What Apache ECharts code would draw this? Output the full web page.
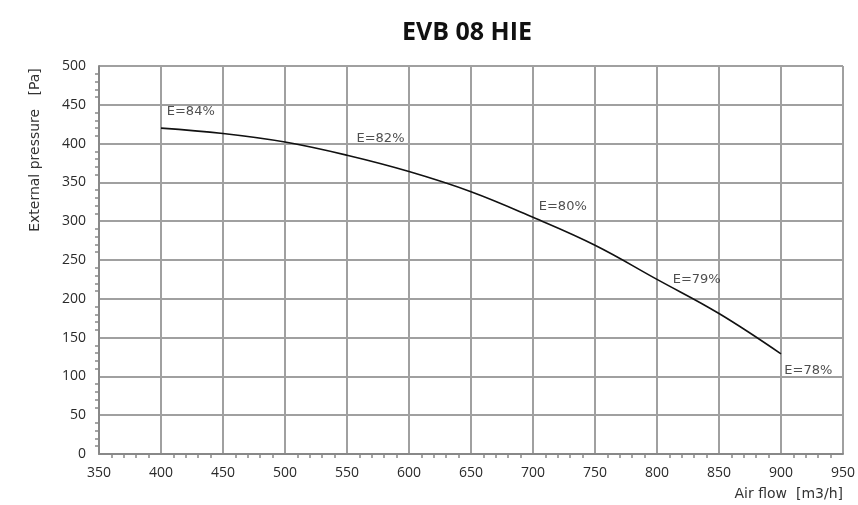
<!DOCTYPE html>
<html><head><meta charset="utf-8">
<script src="https://cdn.jsdelivr.net/npm/echarts@6/dist/echarts.min.js"></script>
<style>html,body{margin:0;padding:0;background:#fff}#c{width:858px;height:505px}</style>
</head><body><div id="c"></div>
<script>
const titleText = 'EVB 08 HIE';
const airFlow = [400, 450, 500, 550, 600, 650, 700, 750, 800, 850, 900];
const pressure = [420, 413, 402, 385, 364, 338, 305, 269, 225, 181, 129];
const effLabels = ['E=84%', 'E=82%', 'E=80%', 'E=79%', 'E=78%'];
const effLabelX = [424, 577, 724, 832, 922];
const effLabelY = [441, 407, 319, 225, 108];
const xAxisName = 'Air flow  [m3/h]';
const yAxisName = 'External pressure   [Pa]';

const font = 'DejaVu Sans';
const tickFont = 'Open Sans';
const chart = echarts.init(document.getElementById('c'), null, {renderer: 'canvas'});
chart.setOption({
  animation: false,
  backgroundColor: '#fff',
  title: {text: titleText, left: 462, top: 15, textAlign: 'center',
    textStyle: {fontFamily: 'Open Sans', fontWeight: 'bold', fontSize: 25, color: '#111'}},
  graphic: [{type: 'text', x: 35, y: 150, rotation: Math.PI / 2,
    style: {text: yAxisName, fontFamily: font, fontSize: 14, fill: '#333', align: 'center', verticalAlign: 'middle'}}],
  grid: {left: 99, right: 11, top: 66, bottom: 51},
  xAxis: {type: 'value', min: 350, max: 950, interval: 50,
    name: xAxisName, nameLocation: 'end', nameGap: 0,
    nameTextStyle: {fontFamily: font, fontSize: 14, color: '#333', align: 'right', verticalAlign: 'top', padding: [33, 0, 0, 0]},
    axisLine: {lineStyle: {color: '#888', width: 2}},
    axisTick: {show: false},
    minorTick: {show: true, splitNumber: 5, length: 4, lineStyle: {color: '#888', width: 1.5}},
    axisLabel: {fontFamily: tickFont, fontSize: 14, color: '#2a2a2a', margin: 12},
    splitLine: {show: true, lineStyle: {color: '#a0a0a0', width: 2}}},
  yAxis: {type: 'value', min: 0, max: 500, interval: 50,
    axisLine: {show: true, lineStyle: {color: '#888', width: 2}},
    axisTick: {show: false},
    minorTick: {show: true, splitNumber: 5, length: 4, lineStyle: {color: '#888', width: 1.5}},
    axisLabel: {fontFamily: tickFont, fontSize: 14, color: '#2a2a2a', margin: 13},
    splitLine: {show: true, lineStyle: {color: '#a0a0a0', width: 2}}},
  series: [
    {type: 'line', data: airFlow.map((x, i) => [x, pressure[i]]), smooth: 0.4,
      showSymbol: false, lineStyle: {color: '#111', width: 1.6}},
    {type: 'scatter', symbolSize: 0,
      data: effLabelX.map((x, i) => ({value: [x, effLabelY[i]], name: effLabels[i]})),
      label: {show: true, position: 'inside', formatter: p => p.name,
        fontFamily: font, fontSize: 13, color: '#222'}}
  ]
});
</script></body></html>
